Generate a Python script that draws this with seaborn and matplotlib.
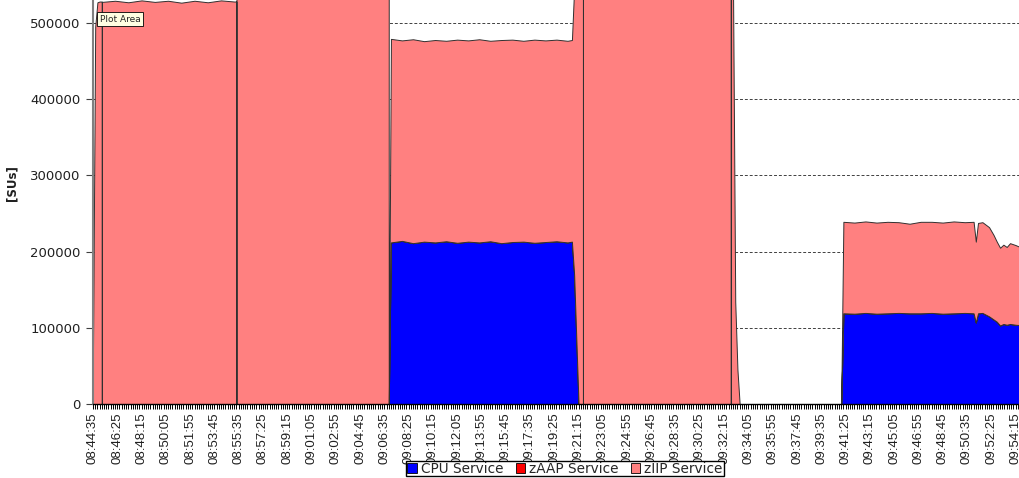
import pandas as pd
import seaborn as sns
import matplotlib.pyplot as plt
from matplotlib.patches import Patch
from matplotlib.ticker import MultipleLocator

# Sample times (a repeated time = a one-sample drop to zero)
times = [
    '08:44:35', '08:44:45', '08:44:55', '08:45:05', '08:45:15', '08:45:15', '08:45:15',
    '08:46:15', '08:47:15', '08:48:15', '08:49:15', '08:50:15', '08:51:15', '08:52:15',
    '08:53:15', '08:54:15', '08:55:15', '08:55:25', '08:55:25', '08:55:25',
    '09:01:15', '09:06:45', '09:06:55', '09:06:55',
    '09:07:05', '09:07:55', '09:08:45', '09:09:35', '09:10:25', '09:11:15', '09:12:05',
    '09:12:55', '09:13:45', '09:14:35', '09:15:25', '09:16:15', '09:17:05', '09:17:55',
    '09:18:45', '09:19:35', '09:20:25', '09:20:45', '09:20:55', '09:21:05', '09:21:15',
    '09:21:35', '09:21:35', '09:21:35', '09:26:15', '09:32:35', '09:32:45', '09:32:45',
    '09:32:45', '09:32:55', '09:33:05', '09:33:15', '09:33:25', '09:41:05',
    '09:41:15', '09:42:05', '09:42:55', '09:43:45', '09:44:35', '09:45:25', '09:46:15',
    '09:47:05', '09:47:55', '09:48:45', '09:49:35', '09:50:25', '09:51:05', '09:51:15',
    '09:51:25', '09:51:45', '09:52:15', '09:52:35', '09:52:50', '09:53:05', '09:53:20',
    '09:53:35', '09:53:50', '09:54:15', '09:54:35', '09:55:35',
]

cpu_service = [
    0, 0, 0, 0, 0, 0, 0,
    0, 0, 0, 0, 0, 0, 0,
    0, 0, 0, 0, 0, 0,
    0, 0, 0, 0,
    212000, 214000, 211000, 213000, 212000, 213500, 211500,
    213000, 212000, 213500, 211000, 212500, 213000, 211500,
    212500, 213500, 212000, 213000, 170000, 85000, 0,
    0, 0, 0, 0, 0, 0, 0,
    0, 0, 0, 0, 0, 0,
    119000, 118500, 119500, 118500, 119000, 119500, 119000,
    119000, 119500, 118500, 119000, 119500, 119000, 107000,
    119000, 119500, 115000, 111000, 108000, 103000, 105000,
    104000, 105000, 104000, 103500, 104000,
]

zaap_service = [0] * len(times)

ziip_service = [
    70000, 495000, 527000, 528000, 528000, 0, 527500,
    529000, 527000, 529500, 527500, 529000, 526500, 529000,
    527000, 529500, 528000, 528000, 0, 545000,
    548000, 546000, 546000, 0,
    267000, 263000, 267500, 263000, 265500, 263000, 266500,
    264000, 266500, 263000, 266500, 265500, 263500, 266500,
    264500, 264500, 264500, 264500, 375000, 461000, 545000,
    545000, 0, 546000, 547000, 545000, 545000, 0,
    545000, 545000, 134000, 45000, 0, 0,
    120000, 119500, 120000, 119500, 120000, 119000, 117500,
    120000, 119500, 119500, 120500, 119000, 120000, 106000,
    118500, 119000, 117000, 111000, 105000, 102000, 104000,
    102000, 106000, 104500, 102500, 103000,
]

tick_labels = [
    '08:44:35', '08:46:25', '08:48:15', '08:50:05', '08:51:55', '08:53:45', '08:55:35',
    '08:57:25', '08:59:15', '09:01:05', '09:02:55', '09:04:45', '09:06:35', '09:08:25',
    '09:10:15', '09:12:05', '09:13:55', '09:15:45', '09:17:35', '09:19:25', '09:21:15',
    '09:23:05', '09:24:55', '09:26:45', '09:28:35', '09:30:25', '09:32:15', '09:34:05',
    '09:35:55', '09:37:45', '09:39:35', '09:41:25', '09:43:15', '09:45:05', '09:46:55',
    '09:48:45', '09:50:35', '09:52:25', '09:54:15',
]

y_ticks = [0, 100000, 200000, 300000, 400000, 500000]

series_names = ['CPU Service', 'zAAP Service', 'zIIP Service']
series_colors = ['#0000FF', '#FF0000', '#FF8080']

# seconds since the first sample
start = pd.to_timedelta(times[0])
x = (pd.to_timedelta(times) - start).total_seconds().to_numpy()
tick_pos = (pd.to_timedelta(tick_labels) - start).total_seconds().to_numpy()

sns.set_style('white')
plt.rcParams['font.family'] = ['DejaVu Sans']

fig = plt.figure(figsize=(10.2, 4.78), dpi=100)
x_max = 4260
px_per_s = 0.2207
ax = fig.add_axes([93 / 1020, 74 / 478, x_max * px_per_s / 1020, 404 / 478])

ax.stackplot(x, cpu_service, zaap_service, ziip_service,
             colors=series_colors, edgecolor='#303030', linewidth=0.7)

ax.set_xlim(0, x_max)
ax.set_ylim(0, 530000)

# dashed horizontal grid behind the areas
ax.set_axisbelow(True)
ax.yaxis.grid(True, linestyle=(0, (3, 2)), color='#404040', linewidth=0.7)
ax.xaxis.grid(False)

ax.set_yticks(y_ticks)
ax.set_yticklabels([str(v) for v in y_ticks], fontsize=9.5, color='#202020')
ax.tick_params(axis='y', length=5, width=0.8, pad=4, color='#404040', left=True)

ax.set_xticks(tick_pos)
ax.set_xticklabels(tick_labels, rotation=90, fontsize=9.5, color='#202020',
                   family=['Liberation Sans Narrow', 'Liberation Sans'])
ax.xaxis.set_minor_locator(MultipleLocator(10))
ax.tick_params(axis='x', which='both', length=3.5, width=0.7, pad=2.5, bottom=True, color='black')

for side in ['top', 'right']:
    ax.spines[side].set_visible(False)
ax.spines['left'].set_color('#808080')
ax.spines['left'].set_linewidth(1.5)
ax.spines['bottom'].set_color('black')
ax.spines['bottom'].set_linewidth(1.0)

fig.text(12 / 1020, 1 - 183 / 478, '[SUs]', rotation=90, fontsize=8.5,
         fontweight='bold', ha='center', va='center', color='#202020')

# tooltip left in the screenshot
fig.text(100 / 1020, 1 - 19 / 478, 'Plot Area', fontsize=6.5, ha='left', va='center',
         bbox=dict(boxstyle='square,pad=0.3', facecolor='#FFFFE1', edgecolor='black', linewidth=0.6))

handles = [Patch(facecolor=c, edgecolor='black', linewidth=0.6) for c in series_colors]
fig.legend(handles, series_names, loc='upper center', ncol=3,
           bbox_to_anchor=(565 / 1020, 1 - 461 / 478), bbox_transform=fig.transFigure,
           fontsize=9.8, frameon=True, fancybox=False, framealpha=1, edgecolor='black',
           handlelength=0.7, handleheight=0.7, handletextpad=0.3, columnspacing=0.9,
           borderpad=0.05, borderaxespad=0)

fig.savefig('out.png', dpi=100)
